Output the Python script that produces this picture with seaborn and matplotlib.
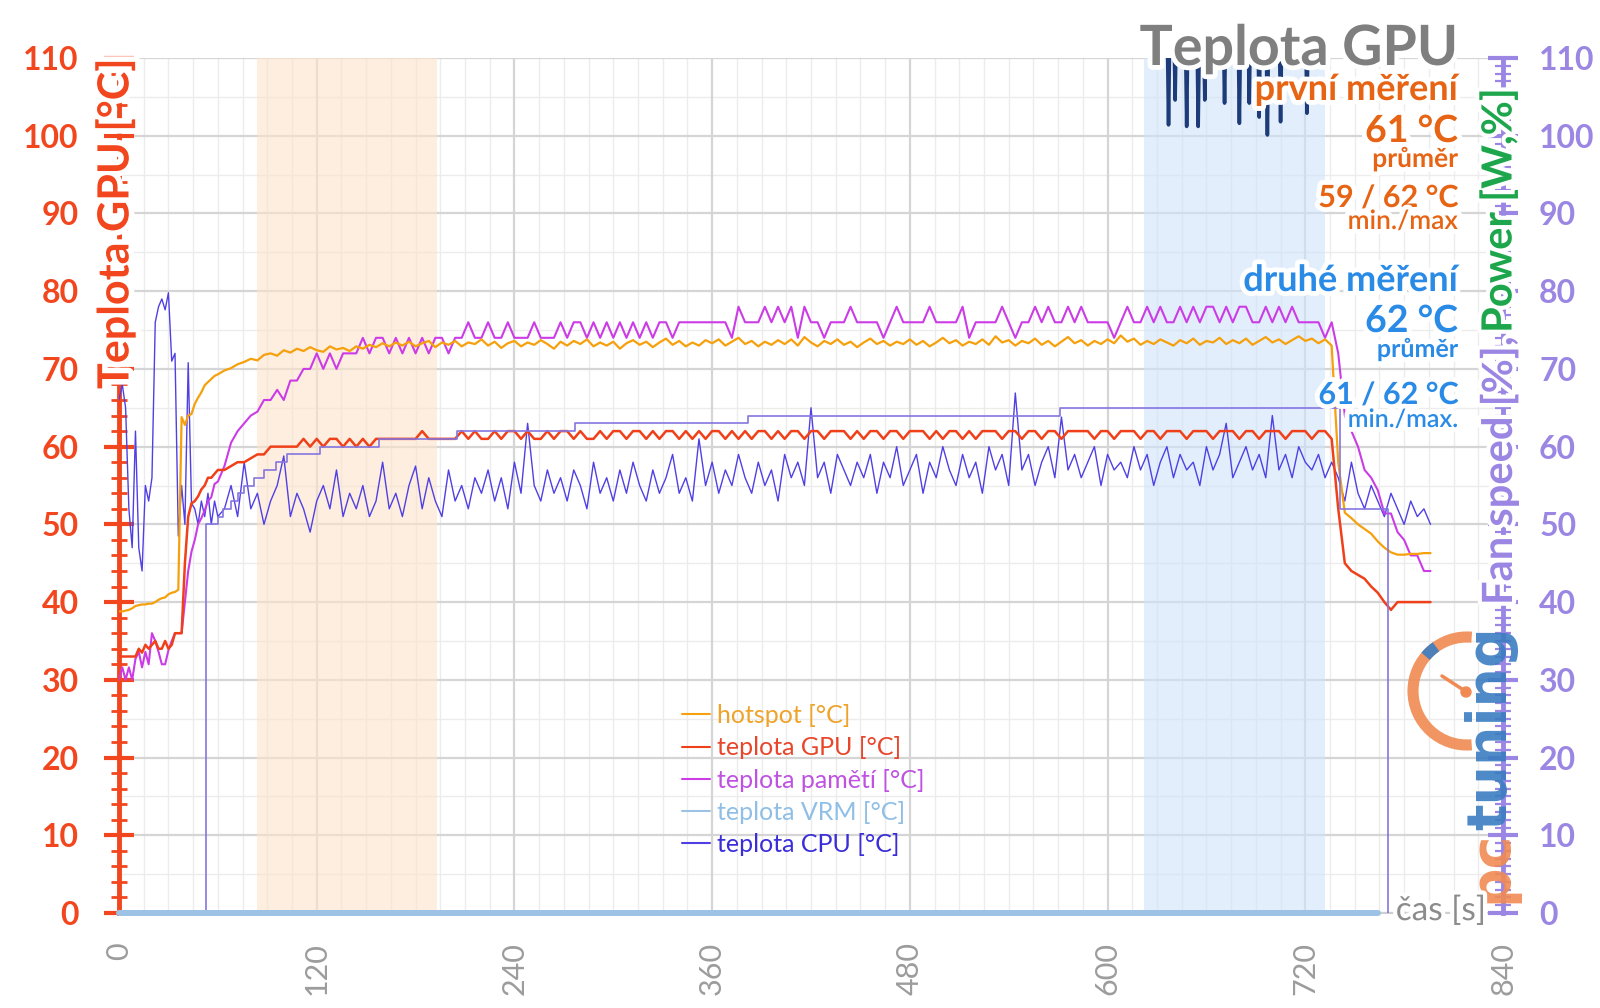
import numpy as np
import pandas as pd
import matplotlib
matplotlib.use("Agg")
import matplotlib.pyplot as plt
import seaborn as sns
from matplotlib.lines import Line2D
from matplotlib import patheffects as pe
from matplotlib.patches import Arc, Circle
from matplotlib.ticker import MultipleLocator
from matplotlib.transforms import IdentityTransform

sns.set_theme(style="white")
plt.rcParams["font.family"] = ["Lato", "DejaVu Sans"]

# ---------------- data ----------------
time_s = list(range(0, 62, 2)) + list(range(64, 800, 4))

hotspot = [
    38.8, 38.8, 38.9, 39.0, 39.2, 39.5, 39.6, 39.7, 39.7, 39.8, 39.8, 40.0, 40.3, 40.5, 40.6, 41.0, 41.2, 41.3, 41.6,
    63.8, 62.8, 64.0, 64.2, 65.5, 66.3, 67.0, 67.9, 68.3, 68.7, 69.1, 69.3,
    69.8, 70.1, 70.6, 70.9, 71.3, 71.1, 71.8, 72.0, 71.7, 72.4,
    72.1, 72.6, 72.3, 72.8, 72.4, 72.2, 72.9, 72.5, 72.7, 72.3,
    72.9, 72.6, 73.1, 72.8, 73.3, 72.9, 73.4, 73.0, 73.5, 72.9,
    73.3, 73.6, 72.8, 73.4, 73.1, 73.6, 72.9, 73.4, 73.2, 73.8,
    73.0, 73.5, 72.7, 73.3, 73.6, 72.9, 73.4, 73.1, 73.7, 73.2,
    72.6, 73.5, 73.0, 73.6, 73.2, 73.8, 72.9, 73.4, 73.0, 73.5,
    72.6, 73.3, 73.7, 73.1, 73.5, 72.8, 73.4, 73.9, 73.1, 73.6,
    72.9, 73.4, 73.0, 73.7, 73.3, 73.8, 73.0, 73.5, 74.0, 73.2,
    73.6, 72.9, 73.5, 73.1, 73.7, 73.2, 73.8, 73.0, 74.1, 73.4,
    72.9, 73.6, 73.2, 73.8, 73.1, 73.5, 72.8, 73.4, 73.9, 73.2,
    73.6, 73.0, 73.5, 73.2, 73.8, 73.1, 73.6, 72.9, 73.4, 74.0,
    73.3, 73.7, 73.0, 73.5, 73.2, 73.8, 73.1, 74.2, 73.4, 73.7,
    73.0, 73.6, 73.3, 73.9, 73.1, 73.6, 72.9, 73.5, 74.1, 73.3,
    73.7, 73.0, 73.6, 73.2, 73.8, 73.3, 74.3, 73.5, 73.9, 73.1,
    73.6, 73.2, 73.8, 73.4, 73.0, 73.7, 73.3, 73.9, 73.1, 73.6,
    73.4, 74.0, 73.2, 73.7, 73.3, 73.9, 73.1, 73.6, 74.1, 73.4,
    73.8, 73.2, 73.7, 74.2, 73.6, 73.9, 73.3, 73.8, 73.0,
    58.0, 51.5, 50.8, 50.0, 49.4, 48.8, 47.8, 47.0, 46.4, 46.1, 46.1, 46.2, 46.2, 46.3, 46.3,
]

gpu_temp = [
    33, 33, 33, 33, 33, 33, 34, 33.5, 34.5, 34, 34.5, 35, 34, 34, 35, 34, 34.5, 36, 36,
    36, 45, 51, 52.7, 53, 53.6, 54.5, 55, 56, 56, 56.5, 57,
    57, 57.5, 58, 58, 58.5, 59, 59, 60, 60, 60,
    60, 60, 61, 60, 61, 60, 61, 61, 60, 61,
    60, 61, 60, 61, 61, 61, 61, 61, 61, 61,
    62, 61, 61, 61, 61, 61, 62, 61, 62, 61,
    61, 62, 61, 62, 62, 61, 62, 61, 61, 62,
    61, 62, 62, 61, 62, 61, 61, 62, 61, 62,
    62, 61, 62, 62, 61, 62, 61, 62, 62, 61,
    62, 61, 62, 61, 62, 62, 61, 62, 61, 62,
    61, 62, 62, 61, 62, 61, 62, 62, 61, 62,
    62, 61, 62, 62, 62, 61, 62, 61, 62, 62,
    61, 62, 62, 61, 62, 62, 62, 61, 62, 61,
    62, 62, 61, 62, 61, 62, 62, 62, 61, 62,
    62, 61, 62, 62, 61, 62, 62, 61, 62, 62,
    62, 62, 61, 62, 62, 61, 62, 62, 62, 61,
    62, 62, 61, 62, 62, 62, 61, 62, 62, 62,
    61, 62, 62, 62, 61, 62, 62, 61, 62, 62,
    62, 61, 62, 62, 62, 61, 62, 62, 61,
    52, 45, 44, 43.5, 43, 42, 41.2, 40, 39, 40, 40, 40, 40, 40, 40,
]

mem_temp = [
    30, 31.6, 30, 31.6, 30, 32.7, 33.6, 31.6, 33.6, 32, 36, 35, 33.6, 32, 32, 33.8, 35, 36, 36,
    36, 40, 44, 46.5, 48, 50, 50.8, 51.8, 53, 53.5, 55.2, 55.5,
    57.5, 60.5, 62, 63, 64, 64.5, 66, 66, 67.3, 66,
    68.5, 68.5, 70, 70, 72, 70, 72, 70, 72, 72,
    72, 74, 72, 74, 74, 72, 74, 72, 74, 72,
    74, 72, 74, 74, 72, 74, 74, 76, 74, 74,
    76, 74, 74, 76, 74, 74, 74, 76, 74, 74,
    74, 76, 74, 76, 76, 74, 76, 74, 76, 74,
    76, 74, 76, 74, 76, 74, 76, 76, 74, 76,
    76, 76, 76, 76, 76, 76, 76, 74, 78, 76,
    76, 76, 78, 76, 78, 76, 78, 74, 78, 76,
    76, 74, 76, 76, 76, 78, 76, 76, 76, 76,
    74, 76, 78, 76, 76, 76, 76, 78, 76, 76,
    76, 76, 78, 74, 76, 76, 76, 76, 78, 76,
    74, 76, 76, 78, 76, 78, 76, 76, 78, 76,
    78, 76, 76, 76, 76, 74, 76, 78, 76, 76,
    78, 76, 78, 76, 76, 78, 76, 78, 76, 78,
    78, 76, 78, 76, 78, 78, 76, 76, 78, 76,
    78, 76, 78, 76, 76, 76, 76, 74, 76,
    72, 64, 62, 60, 57, 56, 54.4, 51.4, 51.4, 49, 48, 46, 46, 44, 44,
]

cpu_temp = [
    66, 68, 65, 52, 47, 62, 47, 44, 55, 53, 56, 76, 78, 79, 77.6, 79.8, 71, 72, 48.5,
    55, 50, 70.8, 52.7, 52, 50, 53, 51, 54, 50, 53, 51,
    52, 55, 51, 58, 52, 54, 50, 53, 55, 58.8,
    51, 54, 52, 49, 53, 55, 52, 57, 51, 54,
    52, 55, 51, 53, 58, 52, 54, 51, 55, 57.5,
    52, 56, 53, 51, 57, 53, 55, 52, 56, 54,
    57, 53, 56, 52, 58, 54, 63, 55, 53, 57,
    54, 56, 53, 57, 55, 52, 58, 54, 56, 53,
    57, 54, 58, 55, 53, 57, 54, 56, 59, 54,
    56, 53, 61, 55, 58, 54, 57, 55, 59, 56,
    54, 58, 55, 57, 53, 59, 56, 58, 55, 65,
    56, 58, 54, 59, 57, 55, 58, 56, 59, 54,
    58, 56, 60, 55, 57, 59, 54, 58, 56, 60,
    57, 55, 59, 56, 58, 54, 60, 57, 59, 55,
    66.9, 57, 59, 55, 58, 60, 56, 63.8, 57, 59,
    56, 58, 60, 55, 59, 57, 58, 56, 60, 57,
    59, 55, 58, 60, 56, 59, 57, 58, 55, 60,
    57, 59, 63, 56, 58, 60, 57, 59, 56, 64,
    57, 59, 56, 60, 58, 57, 59, 56, 58,
    56, 53, 58, 54, 52, 55, 53, 51, 54, 52, 50, 53, 51, 52, 50,
]

fan_t = [0, 53, 60, 63, 68, 72, 76, 82, 88, 95, 102, 122, 158, 205, 277, 382, 571, 741, 770]
fan_speed = [0, 50, 51, 52, 53, 54, 55, 56, 57, 58, 59, 60, 61, 62, 63, 64, 65, 52, 0]

vrm_t = [0, 764]
vrm_temp = [0, 0]

power_t = [630, 636, 637, 638, 640, 641, 642, 647, 648, 649, 654, 655, 656, 658, 659, 660,
           670, 671, 672, 679, 680, 681, 685, 686, 687, 691, 692, 693, 696, 697, 698,
           704, 705, 706, 720, 721, 722, 726]
power = [118, 118, 101.4, 118, 118, 104.6, 118, 118, 101.2, 118, 118, 101.2, 118, 118, 104.6, 118,
         118, 104.2, 118, 118, 101.6, 118, 118, 104.2, 118, 118, 102.4, 118, 118, 100.1, 118,
         118, 101.8, 118, 118, 102.9, 118, 118]

band_first = (84, 193)
band_second = (622, 732)

xtick_vals = [0, 120, 240, 360, 480, 600, 720, 840]
xtick_labels = ["0", "120", "240", "360", "480", "600", "720", "840"]
ytick_vals = [0, 10, 20, 30, 40, 50, 60, 70, 80, 90, 100, 110]
ytick_labels = ["0", "10", "20", "30", "40", "50", "60", "70", "80", "90", "100", "110"]

legend_labels = ["hotspot [°C]", "teplota GPU [°C]", "teplota pamětí [°C]", "teplota VRM [°C]", "teplota CPU [°C]"]

for s in (hotspot, gpu_temp, mem_temp, cpu_temp):
    assert len(s) == len(time_s), (len(s), len(time_s))

df = pd.DataFrame({"t": time_s, "hotspot": hotspot, "gpu": gpu_temp, "mem": mem_temp, "cpu": cpu_temp})

# ---------------- style ----------------
C_HOT = "#f5a00c"
C_GPU = "#f0401a"
C_MEM = "#cc3ce6"
C_VRM = "#9cc2e6"
C_CPU = "#5040e4"
C_FAN = "#8576e0"
C_PWR = "#1d3b78"
C_LEFT = "#f2461e"
C_RIGHT = "#9b86e3"
C_ORANGE = "#e66414"
C_BLUE = "#2a8be6"
GLOW = [pe.withStroke(linewidth=6, foreground="white")]

W, H = 1600, 1008
fig = plt.figure(figsize=(W / 100, H / 100), dpi=100)
fig.patch.set_facecolor("white")
ax = fig.add_axes([119 / W, 1 - 913 / H, (1503 - 119) / W, (913 - 58) / H])
ax2 = ax.twinx()

ax.set_xlim(0, 840)
ax.set_ylim(0, 110)
ax2.set_ylim(0, 110)
ax.set_axisbelow(True)

# grid
ax.xaxis.set_minor_locator(MultipleLocator(15))
ax.yaxis.set_minor_locator(MultipleLocator(2))
ax.grid(which="major", axis="both", color="#d5d5d5", lw=1.6)
ax.grid(which="minor", axis="x", color="#ececec", lw=1.0)
for yy in range(5, 110, 10):
    ax.axhline(yy, color="#ececec", lw=1.0, zorder=0.3)

# bands
ax.axvspan(*band_first, color="#fde3cb", alpha=0.6, lw=0, zorder=0.6)
ax.axvspan(*band_second, color="#cfe3fa", alpha=0.6, lw=0, zorder=0.6)

# lines
sns.lineplot(data=df, x="t", y="cpu", ax=ax, color=C_CPU, lw=1.0, zorder=3)
sns.lineplot(data=df, x="t", y="mem", ax=ax, color=C_MEM, lw=1.5, zorder=3)
sns.lineplot(data=df, x="t", y="hotspot", ax=ax, color=C_HOT, lw=1.6, zorder=3)
sns.lineplot(data=df, x="t", y="gpu", ax=ax, color=C_GPU, lw=1.8, zorder=3)
sns.lineplot(x=fan_t, y=fan_speed, ax=ax2, color=C_FAN, lw=1.2, drawstyle="steps-post")
sns.lineplot(x=vrm_t, y=vrm_temp, ax=ax2, color=C_VRM, lw=4.3, clip_on=False)
sns.lineplot(x=power_t, y=power, ax=ax2, color=C_PWR, lw=2.6, solid_capstyle="round")

ax.set_xlabel("")
ax.set_ylabel("")
ax2.set_xlabel("")
ax2.set_ylabel("")

# spines
for s in ("top", "right"):
    ax.spines[s].set_visible(False)
ax.spines["left"].set_color(C_LEFT)
ax.spines["left"].set_linewidth(3.5)
ax.spines["bottom"].set_color("#cfcfcf")
ax.spines["bottom"].set_linewidth(1.5)
for s in ("top", "left", "bottom"):
    ax2.spines[s].set_visible(False)
ax2.spines["right"].set_color(C_RIGHT)
ax2.spines["right"].set_linewidth(3.5)

# ticks
ax.set_xticks(xtick_vals)
ax.set_xticklabels(xtick_labels, rotation=90, fontsize=22, color="#9c9c9c")
ax.tick_params(axis="x", which="major", direction="out", length=8, width=1.2, color="#bdbdbd", pad=13)
ax.tick_params(axis="x", which="minor", length=0)

ax.set_yticks(ytick_vals)
ax.set_yticklabels(ytick_labels, fontsize=23, fontweight="bold", color=C_LEFT)
ax.tick_params(axis="y", which="major", direction="inout", length=22, width=3, color=C_LEFT, pad=18)
ax.tick_params(axis="y", which="minor", direction="inout", length=12, width=2, color=C_LEFT)

ax2.set_yticks(ytick_vals)
ax2.yaxis.set_minor_locator(MultipleLocator(1))
ax2.set_yticklabels(ytick_labels, fontsize=23, fontweight="bold", color=C_RIGHT)
ax2.tick_params(axis="y", which="major", direction="inout", length=22, width=3, color=C_RIGHT, pad=15)
ax2.tick_params(axis="y", which="minor", direction="inout", length=12, width=1.6, color=C_RIGHT)

# legend
handles = [Line2D([0], [0], color=c, lw=1.5) for c in (C_HOT, C_GPU, C_MEM, C_VRM, C_CPU)]
leg_colors = ["#f0a32a", "#e8462a", "#bf52e0", "#8fbfe6", "#3a2ed8"]
fig.legend(handles, legend_labels, loc="upper left", bbox_to_anchor=(682 / W, 1 - 704 / H),
           frameon=False, fontsize=18, handlelength=1.1, handletextpad=0.3, labelspacing=0.37,
           borderpad=0, borderaxespad=0, labelcolor=leg_colors)

# right text block
XR = 1458 / W
blocks = [
    ("Teplota GPU", 40, "bold", "#7f7f7f", 65),
    ("první měření", 26, "bold", C_ORANGE, 100),
    ("61 °C", 27, "bold", C_ORANGE, 142),
    ("průměr", 19, "bold", C_ORANGE, 167),
    ("59 / 62 °C", 22, "bold", C_ORANGE, 207),
    ("min./max", 19, "semibold", C_ORANGE, 229),
    ("druhé měření", 26, "bold", C_BLUE, 291),
    ("62 °C", 27, "bold", C_BLUE, 332),
    ("průměr", 18, "bold", C_BLUE, 357),
    ("61 / 62 °C", 22, "bold", C_BLUE, 404),
    ("min./max.", 18, "semibold", C_BLUE, 427),
]
for txt, fs, fw, col, yb in blocks:
    fig.text(XR, 1 - yb / H, txt, ha="right", va="baseline", fontsize=fs, fontweight=fw,
             color=col, path_effects=[pe.withStroke(linewidth=7, foreground="white")], zorder=10)

# axis titles
fig.text(115 / W, 1 - 224 / H, "Teplota GPU [°C]", rotation=90, ha="center", va="center",
         fontsize=31, fontweight="bold", color=C_LEFT,
         path_effects=[pe.withStroke(linewidth=8, foreground="white")], zorder=10)

t_fan = fig.text(1499 / W, 1 - 605 / H, "Fan speed [%],", rotation=90, rotation_mode="anchor",
                 ha="left", va="center", fontsize=30, fontweight="bold", color=C_RIGHT,
                 path_effects=GLOW, zorder=10)
fig.text(1486 / W, 1 - 911 / H, "čas [s]", ha="right", va="center", fontsize=24, color="#8c8c8c",
         path_effects=GLOW, zorder=10)

# logo
LOGO_FONT = ["DejaVu Sans"]
t_pc = fig.text(1491 / W, 1 - 903 / H, "pc", rotation=90, rotation_mode="anchor", ha="left",
                va="center", fontsize=40, fontweight="bold", family=LOGO_FONT, color="#f08a52",
                alpha=0.9, zorder=4)
lx, ly, lr = 1467, H - 691, 54
fig.patches.append(Arc((lx, ly), 2 * lr, 2 * lr, theta1=85, theta2=275, lw=8, color="#f08a52",
                       alpha=0.9, transform=IdentityTransform()))
fig.patches.append(Arc((lx, ly), 2 * lr, 2 * lr, theta1=125, theta2=140, lw=8, color="#3b7dc2",
                       alpha=0.9, transform=IdentityTransform()))
fig.lines.append(Line2D([1442, 1465], [H - 676, H - 691], lw=2.5, color="#f08a52", transform=IdentityTransform()))
fig.patches.append(Circle((1466, H - 692), 5, color="#f08a52", transform=IdentityTransform()))

fig.canvas.draw()
r = fig.canvas.get_renderer()
bb = t_fan.get_window_extent(r)
fig.text(1499 / W, (bb.y1 + 4) / H, "Power [W,%]", rotation=90, rotation_mode="anchor",
         ha="left", va="center", fontsize=30, fontweight="bold", color="#1ea64c",
         path_effects=GLOW, zorder=10)
bb2 = t_pc.get_window_extent(r)
fig.text(1491 / W, (bb2.y1 + 1) / H, "tuning", rotation=90, rotation_mode="anchor", ha="left",
         va="center", fontsize=40, fontweight="bold", family=LOGO_FONT, color="#3b7dc2",
         alpha=0.9, zorder=4)

fig.savefig("out.png", dpi=100)
